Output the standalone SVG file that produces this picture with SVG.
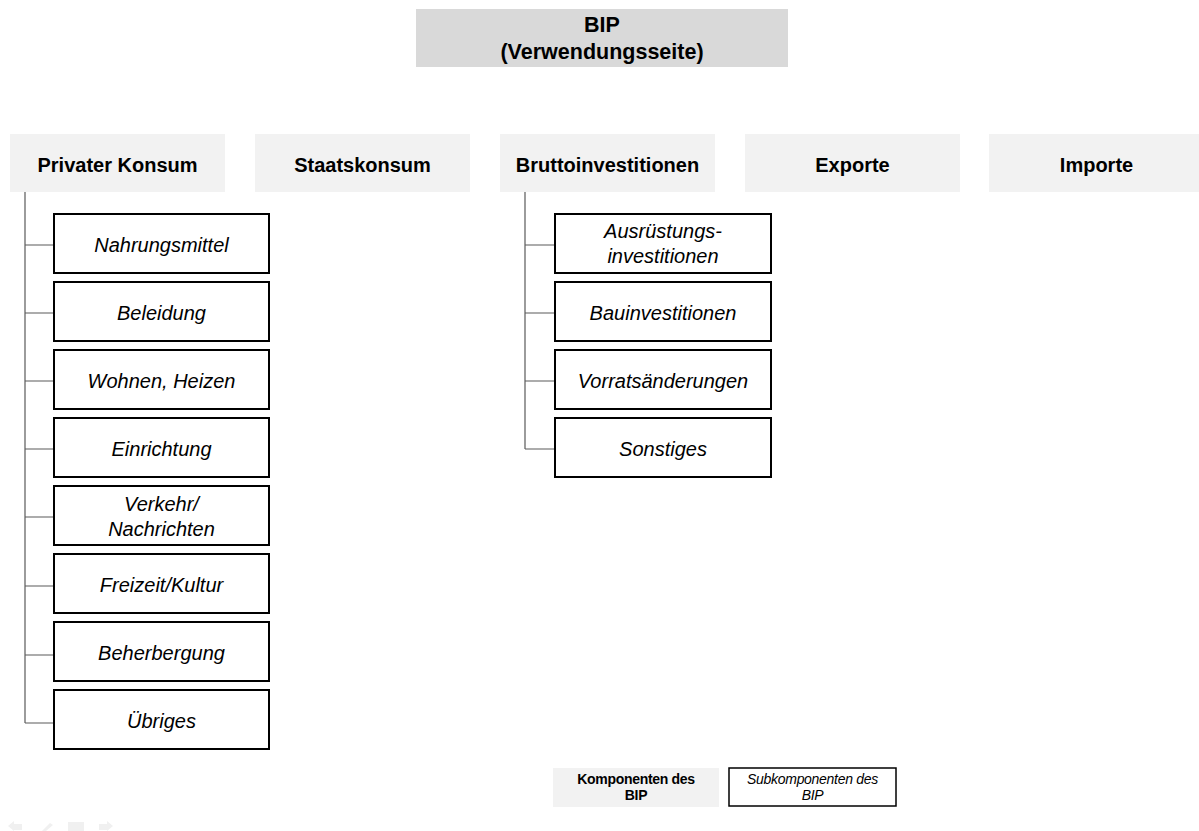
<svg xmlns="http://www.w3.org/2000/svg" width="1199" height="831" viewBox="0 0 1199 831">
<style>
.title{font-family:"Liberation Sans",Arial,sans-serif;font-weight:bold;font-size:21.5px;fill:#000;text-anchor:middle}
.comp rect{fill:#f2f2f2}
.comp text{font-family:"Liberation Sans",Arial,sans-serif;font-weight:bold;font-size:20px;fill:#000;text-anchor:middle}
.sub rect{fill:#fff;stroke:#000;stroke-width:2}
.sub text{font-family:"Liberation Sans",Arial,sans-serif;font-style:italic;font-size:20px;fill:#000;text-anchor:middle}
.conn{stroke:#5a5a5a;stroke-width:1.2;fill:none}
.leg1{font-family:"Liberation Sans",Arial,sans-serif;font-weight:bold;font-size:14px;text-anchor:middle;letter-spacing:-0.3px}
.leg2{font-family:"Liberation Sans",Arial,sans-serif;font-style:italic;font-size:14px;text-anchor:middle;letter-spacing:-0.3px}
.icon{fill:#f0f0f0}
</style>
<rect width="1199" height="831" fill="#fff"/>
<g id="bip">
<rect x="416" y="9" width="372" height="58" fill="#d9d9d9"/>
<text class="title" x="602" y="32">BIP</text>
<text class="title" x="602" y="59">(Verwendungsseite)</text>
</g>
<g id="privater-konsum" class="comp"><rect x="10" y="134" width="215" height="58"/><text x="117.5" y="172">Privater Konsum</text></g>
<g id="staatskonsum" class="comp"><rect x="255" y="134" width="215" height="58"/><text x="362.5" y="172">Staatskonsum</text></g>
<g id="bruttoinvestitionen" class="comp"><rect x="500" y="134" width="215" height="58"/><text x="607.5" y="172">Bruttoinvestitionen</text></g>
<g id="exporte" class="comp"><rect x="745" y="134" width="215" height="58"/><text x="852.5" y="172">Exporte</text></g>
<g id="importe" class="comp"><rect x="989" y="134" width="215" height="58"/><text x="1096.5" y="172">Importe</text></g>
<g id="connectors">
<path class="conn" d="M25 192 V723 M25 245 H54 M25 313 H54 M25 381 H54 M25 449 H54 M25 517 H54 M25 586 H54 M25 655 H54 M25 723 H54"/>
<path class="conn" d="M525 192 V449 M525 245 H555 M525 313 H555 M525 381 H555 M525 449 H555"/>
</g>
<g id="nahrungsmittel" class="sub"><rect x="54" y="214" width="215" height="59"/><text x="161.5" y="252">Nahrungsmittel</text></g>
<g id="beleidung" class="sub"><rect x="54" y="282" width="215" height="59"/><text x="161.5" y="320">Beleidung</text></g>
<g id="wohnen" class="sub"><rect x="54" y="350" width="215" height="59"/><text x="161.5" y="388">Wohnen, Heizen</text></g>
<g id="einrichtung" class="sub"><rect x="54" y="418" width="215" height="59"/><text x="161.5" y="456">Einrichtung</text></g>
<g id="verkehr" class="sub"><rect x="54" y="486" width="215" height="59"/><text x="161.5" y="511">Verkehr/</text><text x="161.5" y="536">Nachrichten</text></g>
<g id="freizeit" class="sub"><rect x="54" y="554" width="215" height="59"/><text x="161.5" y="592">Freizeit/Kultur</text></g>
<g id="beherbergung" class="sub"><rect x="54" y="622" width="215" height="59"/><text x="161.5" y="660">Beherbergung</text></g>
<g id="uebriges" class="sub"><rect x="54" y="690" width="215" height="59"/><text x="161.5" y="728">Übriges</text></g>
<g id="ausruestung" class="sub"><rect x="555" y="214" width="216" height="59"/><text x="663" y="238">Ausrüstungs-</text><text x="663" y="263">investitionen</text></g>
<g id="bau" class="sub"><rect x="555" y="282" width="216" height="59"/><text x="663" y="320">Bauinvestitionen</text></g>
<g id="vorrat" class="sub"><rect x="555" y="350" width="216" height="59"/><text x="663" y="388">Vorratsänderungen</text></g>
<g id="sonstiges" class="sub"><rect x="555" y="418" width="216" height="59"/><text x="663" y="456">Sonstiges</text></g>
<g id="legend-komp">
<rect x="553" y="768" width="166" height="39" fill="#f2f2f2"/>
<text class="leg1" x="636" y="784">Komponenten des</text>
<text class="leg1" x="636" y="800">BIP</text>
</g>
<g id="legend-sub">
<rect x="729" y="768" width="167" height="38" fill="#fff" stroke="#000" stroke-width="1.5"/>
<text class="leg2" x="812.5" y="784">Subkomponenten des</text>
<text class="leg2" x="812.5" y="800">BIP</text>
</g>
<g id="nav-icons">
<path class="icon" d="M8 826 L14 821 V824 H22 V830 H14 V831 Z"/>
<path class="icon" d="M42 831 L50 823 L53 825 L46 831 Z"/>
<rect class="icon" x="68" y="822" width="16" height="9"/>
<path class="icon" d="M113 826 L107 821 V824 H99 V830 H107 V831 Z"/>
</g>
</svg>
